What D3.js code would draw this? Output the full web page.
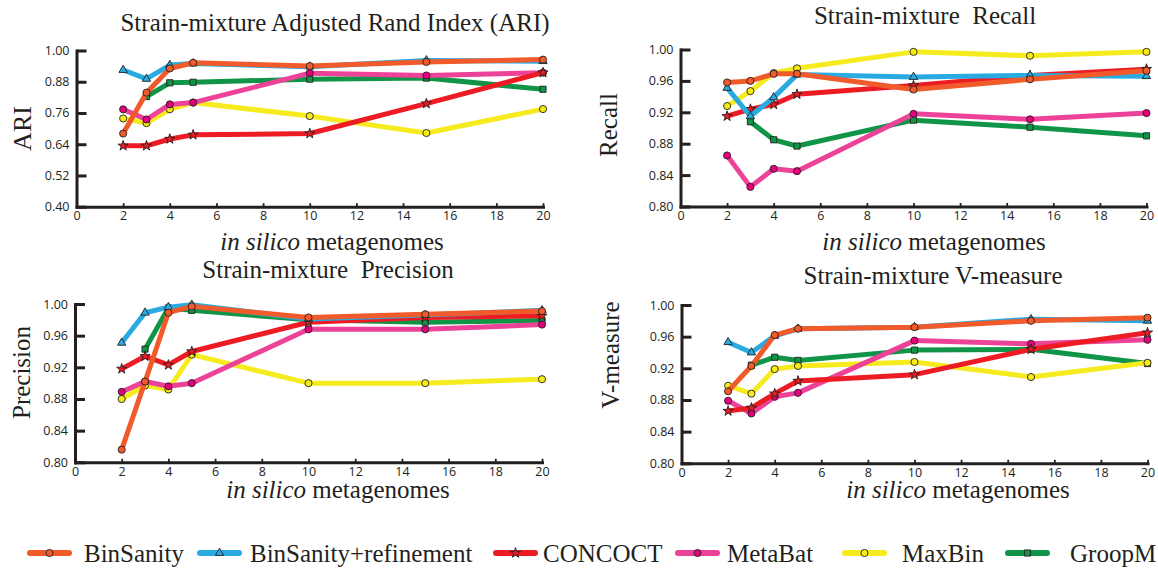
<!DOCTYPE html>
<html>
<head>
<meta charset="utf-8">
<script src="https://cdn.jsdelivr.net/npm/d3@7"></script>
<style>
  body { margin: 0; background: #fff; }
  svg { display: block; }
  .axis text { font-family: "Open Sans", sans-serif; font-size: 12.5px; fill: #231f20; }
  .serif { font-family: "Liberation Serif", "Times New Roman", serif; fill: #231f20; white-space: pre; }
</style>
</head>
<body>
<div id="chart"></div>
<script>
(function () {
  // x values (number of in silico metagenomes)
  var xValues = [2, 3, 4, 5, 10, 15, 20];
  var xTicks = [0, 2, 4, 6, 8, 10, 12, 14, 16, 18, 20];
  var methods = ['BinSanity', 'BinSanity+refinement', 'CONCOCT', 'MetaBat', 'MaxBin', 'GroopM'];

  var ariTicks = [0.40, 0.52, 0.64, 0.76, 0.88, 1.00];
  var scoreTicks = [0.80, 0.84, 0.88, 0.92, 0.96, 1.00];

  // ARI
  var ariBinSanity = [0.681, 0.838, 0.931, 0.953, 0.940, 0.956, 0.965];
  var ariRefine    = [0.925, 0.891, 0.944, 0.950, 0.938, 0.962, 0.959];
  var ariConcoct   = [0.634, 0.634, 0.660, 0.676, 0.681, 0.796, 0.915];
  var ariMetaBat   = [0.774, 0.735, 0.793, 0.800, 0.913, 0.904, 0.915];
  var ariMaxBin    = [0.739, 0.721, 0.774, 0.800, 0.748, 0.683, 0.775];
  var ariGroopM    = [null, 0.823, 0.876, 0.878, 0.890, 0.894, 0.851];

  // Recall
  var recBinSanity = [0.958, 0.960, 0.969, 0.969, 0.949, 0.962, 0.973];
  var recRefine    = [0.951, 0.915, 0.939, 0.968, 0.965, 0.967, 0.966];
  var recConcoct   = [0.915, 0.924, 0.930, 0.943, 0.954, 0.967, 0.975];
  var recMetaBat   = [0.865, 0.825, 0.848, 0.845, 0.918, 0.911, 0.919];
  var recMaxBin    = [0.928, 0.947, 0.970, 0.976, 0.997, 0.992, 0.997];
  var recGroopM    = [null, 0.908, 0.885, 0.877, 0.910, 0.901, 0.890];

  // Precision
  var preBinSanity = [0.816, 0.902, 0.989, 0.997, 0.983, 0.987, 0.991];
  var preRefine    = [0.951, 0.989, 0.996, 0.999, 0.981, 0.986, 0.992];
  var preConcoct   = [0.918, 0.934, 0.923, 0.940, 0.977, 0.983, 0.985];
  var preMetaBat   = [0.889, 0.902, 0.896, 0.900, 0.968, 0.968, 0.974];
  var preMaxBin    = [0.880, 0.897, 0.892, 0.936, 0.900, 0.900, 0.905];
  var preGroopM    = [null, 0.943, 0.995, 0.992, 0.980, 0.977, 0.979];

  // V-measure
  var vmBinSanity = [0.891, 0.923, 0.962, 0.970, 0.972, 0.980, 0.984];
  var vmRefine    = [0.953, 0.940, 0.961, 0.970, 0.972, 0.982, 0.980];
  var vmConcoct   = [0.866, 0.870, 0.888, 0.904, 0.912, 0.944, 0.965];
  var vmMetaBat   = [0.879, 0.863, 0.884, 0.889, 0.955, 0.951, 0.956];
  var vmMaxBin    = [0.898, 0.888, 0.919, 0.923, 0.928, 0.909, 0.927];
  var vmGroopM    = [null, 0.924, 0.934, 0.930, 0.943, 0.944, 0.926];

  var lineColors = ['#f15a2b', '#29abe2', '#ed1c24', '#ec4399', '#f5eb1e', '#109447'];
  var markerColors = ['#f15a2b', '#29abe2', '#ed1c24', '#e6007e', '#f7ec13', '#109447'];
  var symbols = [d3.symbolCircle, d3.symbolTriangle, d3.symbolStar, d3.symbolCircle, d3.symbolCircle, d3.symbolSquare];
  var symbolSizes = [40, 30, 32, 40, 40, 38];
  var drawOrder = [5, 4, 3, 2, 1, 0];
  var ink = '#231f20';

  var width = 1158, height = 569;

  var panels = [
    { title: 'Strain-mixture Adjusted Rand Index (ARI)', ylabel: 'ARI', ticks: ariTicks,
      series: [ariBinSanity, ariRefine, ariConcoct, ariMetaBat, ariMaxBin, ariGroopM],
      x: [76.5, 543], y: [206.7, 50.5], titlePos: [335, 31], xlabPos: [332, 250], ylabPos: [31, 128.5], ylabSize: 26 },
    { title: 'Strain-mixture  Recall', ylabel: 'Recall', ticks: scoreTicks,
      series: [recBinSanity, recRefine, recConcoct, recMetaBat, recMaxBin, recGroopM],
      x: [680.5, 1146.5], y: [206.5, 49.5], titlePos: [925, 24], xlabPos: [934, 250], ylabPos: [617, 125], ylabSize: 25 },
    { title: 'Strain-mixture  Precision', ylabel: 'Precision', ticks: scoreTicks,
      series: [preBinSanity, preRefine, preConcoct, preMetaBat, preMaxBin, preGroopM],
      x: [75, 542], y: [462.3, 304], titlePos: [328, 278], xlabPos: [338, 498], ylabPos: [30, 372.5], ylabSize: 25 },
    { title: 'Strain-mixture V-measure', ylabel: 'V-measure', ticks: scoreTicks,
      series: [vmBinSanity, vmRefine, vmConcoct, vmMetaBat, vmMaxBin, vmGroopM],
      x: [681.5, 1147.5], y: [463.3, 305], titlePos: [933, 284], xlabPos: [958, 498], ylabPos: [619, 355], ylabSize: 25 }
  ];

  var svg = d3.select('#chart')
    .append('svg')
    .attr('width', width)
    .attr('height', height);

  svg.append('rect').attr('width', width).attr('height', height).attr('fill', '#fff');

  panels.forEach(function (p) {
    var xScale = d3.scaleLinear().domain([0, 20]).range(p.x);
    var yScale = d3.scaleLinear().domain([p.ticks[0], p.ticks[p.ticks.length - 1]]).range(p.y);

    var g = svg.append('g');

    // y axis, ticks pointing inwards
    var yAxis = g.append('g')
      .attr('class', 'axis')
      .attr('transform', 'translate(' + p.x[0] + ',0)')
      .call(d3.axisLeft(yScale).tickValues(p.ticks).tickFormat(d3.format('.2f'))
        .tickSizeInner(-10).tickSizeOuter(0).tickPadding(7));
    yAxis.select('.domain').attr('stroke', ink).attr('stroke-width', 3).attr('stroke-linecap', 'square');
    yAxis.selectAll('.tick line').attr('stroke', ink).attr('stroke-width', 3);

    var xAxis = g.append('g')
      .attr('class', 'axis')
      .attr('transform', 'translate(0,' + p.y[0] + ')')
      .call(d3.axisBottom(xScale).tickValues(xTicks).tickFormat(d3.format('d'))
        .tickSizeInner(-3.5).tickSizeOuter(0).tickPadding(4.5));
    xAxis.select('.domain').attr('stroke', ink).attr('stroke-width', 3).attr('stroke-linecap', 'square');
    xAxis.selectAll('.tick line').attr('stroke', ink).attr('stroke-width', 1.8);

    var line = d3.line()
      .defined(function (d) { return d.v != null; })
      .x(function (d) { return xScale(d.x); })
      .y(function (d) { return yScale(d.v); });

    drawOrder.forEach(function (i) {
      var pts = xValues.map(function (x, j) { return { x: x, v: p.series[i][j] }; });
      g.append('path')
        .datum(pts)
        .attr('fill', 'none')
        .attr('stroke', lineColors[i])
        .attr('stroke-width', 5)
        .attr('stroke-linejoin', 'round')
        .attr('stroke-linecap', 'round')
        .attr('d', line);
      g.selectAll(null)
        .data(pts.filter(function (d) { return d.v != null; }))
        .enter().append('path')
        .attr('transform', function (d) { return 'translate(' + xScale(d.x) + ',' + yScale(d.v) + ')'; })
        .attr('d', d3.symbol().type(symbols[i]).size(symbolSizes[i]))
        .attr('fill', markerColors[i])
        .attr('stroke', ink)
        .attr('stroke-width', 0.9);
    });

    g.append('text')
      .attr('class', 'serif')
      .attr('x', p.titlePos[0]).attr('y', p.titlePos[1])
      .attr('text-anchor', 'middle')
      .style('font-size', '25px')
      .text(p.title);

    var xl = g.append('text')
      .attr('class', 'serif')
      .attr('x', p.xlabPos[0]).attr('y', p.xlabPos[1])
      .attr('text-anchor', 'middle')
      .style('font-size', '25px');
    xl.append('tspan').style('font-style', 'italic').text('in silico');
    xl.append('tspan').text(' metagenomes');

    g.append('text')
      .attr('class', 'serif')
      .attr('transform', 'translate(' + p.ylabPos[0] + ',' + p.ylabPos[1] + ') rotate(-90)')
      .attr('text-anchor', 'middle')
      .style('font-size', p.ylabSize + 'px')
      .text(p.ylabel);
  });

  // legend
  var legendLineX = [30, 200, 496, 678, 845, 1008];
  var legendTextX = [84, 250, 543, 727, 902, 1070];
  var legendY = 553;

  var legend = svg.append('g');
  methods.forEach(function (m, i) {
    legend.append('line')
      .attr('x1', legendLineX[i]).attr('x2', legendLineX[i] + 39)
      .attr('y1', legendY).attr('y2', legendY)
      .attr('stroke', lineColors[i])
      .attr('stroke-width', 6)
      .attr('stroke-linecap', 'round');
    legend.append('path')
      .attr('transform', 'translate(' + (legendLineX[i] + 19.5) + ',' + legendY + ')')
      .attr('d', d3.symbol().type(symbols[i]).size(symbolSizes[i]))
      .attr('fill', markerColors[i])
      .attr('stroke', ink)
      .attr('stroke-width', 0.9);
    legend.append('text')
      .attr('class', 'serif')
      .attr('x', legendTextX[i]).attr('y', legendY + 9)
      .style('font-size', '25px')
      .text(m);
  });
})();
</script>
</body>
</html>
